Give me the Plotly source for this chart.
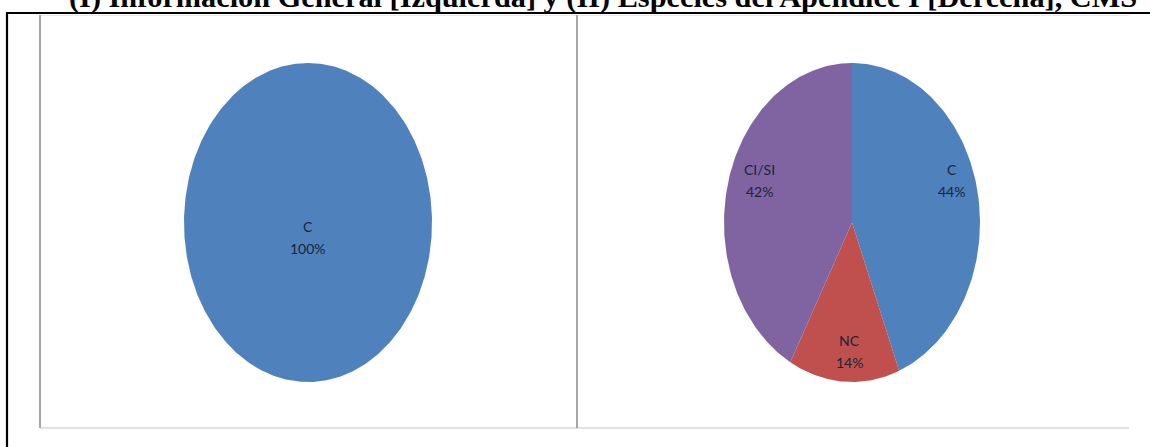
import numpy as np
import plotly.graph_objects as go

# ---------------- data ----------------
title_text = "(I) Información General [Izquierda] y (II) Especies del Apéndice I [Derecha], CMS"

left_labels = ["C"]
left_values = [100]

right_labels = ["C", "NC", "CI/SI"]
right_values = [44, 14, 42]

# ---------------- styles ----------------
W, H = 1150, 447
slice_colors = {"C": "#4F81BD", "NC": "#C0504D", "CI/SI": "#8064A2"}
label_color = "#16243F"
label_font = "Lato"

# label anchor positions inside each pie (unit-ellipse coordinates)
left_label_pos = {"C": (0.0, -0.094)}
right_label_pos = {"C": (0.78, 0.266), "NC": (-0.016, -0.806), "CI/SI": (-0.719, 0.266)}


def px_x(v):
    return v / W


def px_y(v):
    return 1 - v / H


fig = go.Figure()


def add_pie(labels, values, xaxis, yaxis, label_pos, ann_ref):
    total = float(sum(values))
    start = 0.0
    for lab, val in zip(labels, values):
        frac = val / total
        t = np.linspace(start, start + frac, max(int(frac * 400), 4)) * 2 * np.pi
        xs = np.sin(t)
        ys = np.cos(t)
        if frac < 0.9999:
            xs = np.concatenate([[0.0], xs, [0.0]])
            ys = np.concatenate([[0.0], ys, [0.0]])
        fig.add_trace(go.Scatter(
            x=xs, y=ys, mode="lines", fill="toself",
            fillcolor=slice_colors[lab], line=dict(width=0, color=slice_colors[lab]),
            xaxis=xaxis, yaxis=yaxis, hoverinfo="skip", showlegend=False,
        ))
        lx, ly = label_pos[lab]
        pct = f"{round(frac * 100):d}%"
        for txt, shift in ((lab, 11), (pct, -11)):
            fig.add_annotation(
                x=lx, y=ly, xref=ann_ref[0], yref=ann_ref[1], text=txt,
                showarrow=False, yshift=shift,
                font=dict(family=label_font, size=14, color=label_color),
                xanchor="center", yanchor="middle",
            )
        start += frac


add_pie(left_labels, left_values, "x", "y", left_label_pos, ("x", "y"))
add_pie(right_labels, right_values, "x2", "y2", right_label_pos, ("x2", "y2"))

axis_common = dict(range=[-1, 1], visible=False, showgrid=False, zeroline=False, fixedrange=True)

fig.update_layout(
    width=W, height=H,
    margin=dict(l=0, r=0, t=0, b=0),
    paper_bgcolor="white", plot_bgcolor="rgba(0,0,0,0)",
    showlegend=False,
    xaxis=dict(domain=[px_x(184), px_x(432)], **axis_common),
    yaxis=dict(domain=[px_y(382), px_y(63)], **axis_common),
    xaxis2=dict(domain=[px_x(724), px_x(980)], anchor="y2", **axis_common),
    yaxis2=dict(domain=[px_y(382), px_y(63)], anchor="x2", **axis_common),
)

# title (partly cut off at top, as in the reference)
fig.add_annotation(
    x=px_x(603), y=px_y(-3), xref="paper", yref="paper",
    text="<b>" + title_text + "</b>", showarrow=False,
    font=dict(family="Liberation Serif", size=30.3, color="black"),
    xanchor="center", yanchor="middle",
)

shapes = [
    # outer black frame
    dict(type="rect", xref="paper", yref="paper",
         x0=px_x(7), x1=px_x(1170), y0=px_y(470), y1=px_y(13),
         line=dict(color="black", width=2.2), layer="above"),
    # panel top edge (very faint)
    dict(type="line", xref="paper", yref="paper",
         x0=px_x(40), x1=px_x(1129), y0=px_y(15.5), y1=px_y(15.5),
         line=dict(color="#EBEBEB", width=1)),
    # panel bottom edge
    dict(type="line", xref="paper", yref="paper",
         x0=px_x(40), x1=px_x(1129), y0=px_y(428), y1=px_y(428),
         line=dict(color="#D9D9D9", width=1.5)),
    # left panel edge
    dict(type="line", xref="paper", yref="paper",
         x0=px_x(40), x1=px_x(40), y0=px_y(15), y1=px_y(428),
         line=dict(color="#A6A6A6", width=2)),
    # divider
    dict(type="line", xref="paper", yref="paper",
         x0=px_x(577), x1=px_x(577), y0=px_y(15), y1=px_y(428),
         line=dict(color="#A6A6A6", width=2)),
]
fig.update_layout(shapes=shapes)

fig.write_html(
    "out.html",
    config={"displayModeBar": False},
    post_script="document.body.style.margin='0';document.body.style.padding='0';",
)
